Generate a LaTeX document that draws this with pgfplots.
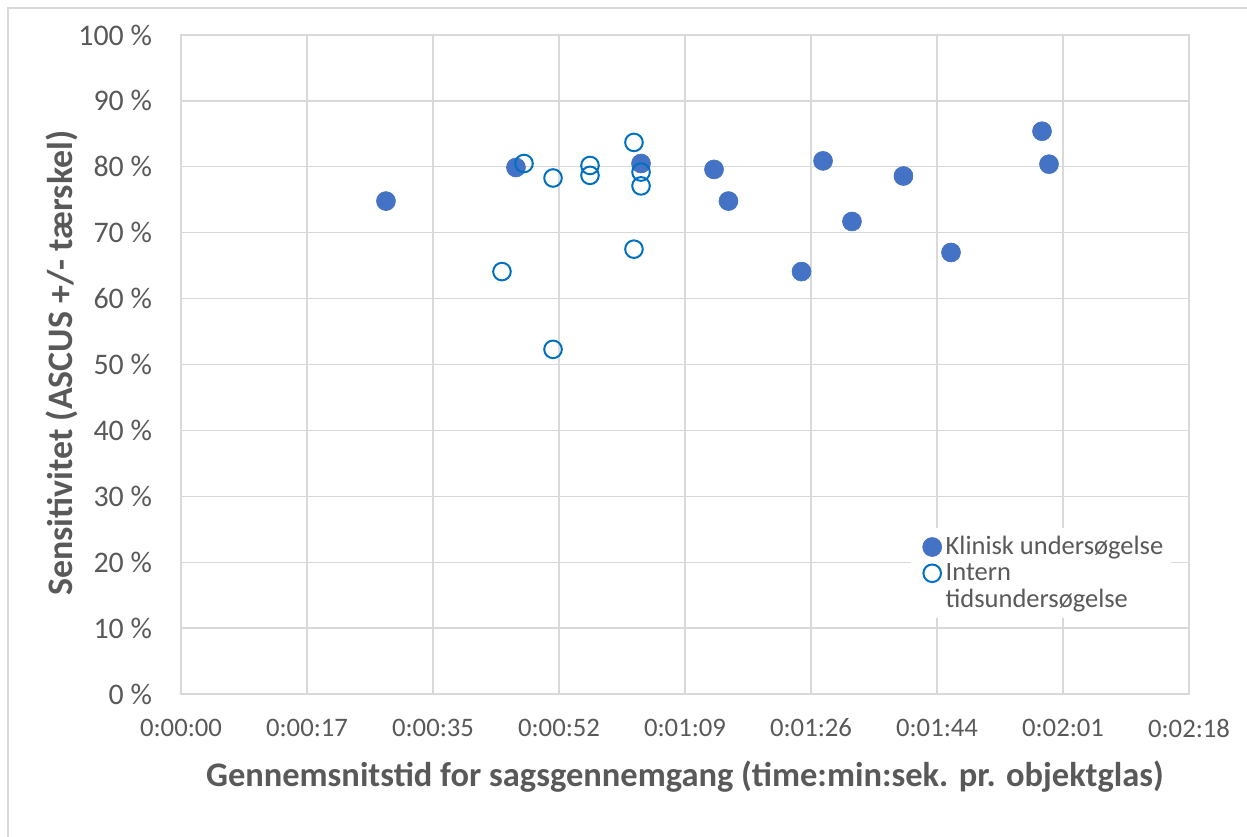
\documentclass[border=0pt]{standalone}
\usepackage{pgfplots}
\pgfplotsset{compat=1.18}
\usepackage{fontspec}
\setmainfont{Carlito}
\definecolor{klin}{HTML}{4472C4}
\definecolor{intern}{HTML}{0070C0}
\definecolor{gridc}{HTML}{D9D9D9}
\definecolor{txt}{HTML}{595959}
\begin{document}
\begin{tikzpicture}
\begin{axis}[
  at={(0,0)}, anchor=south west,
  scale only axis, width=504bp, height=329.5bp,
  xmin=0, xmax=138.24, ymin=0, ymax=100,
  xtick={0,17.28,34.56,51.84,69.12,86.4,103.68,120.96,138.24},
  xticklabels={0:00:00,0:00:17,0:00:35,0:00:52,0:01:09,0:01:26,0:01:44,0:02:01,0:02:18},
  ytick={0,10,...,100},
  yticklabels={0 \%,10 \%,20 \%,30 \%,40 \%,50 \%,60 \%,70 \%,80 \%,90 \%,100 \%},
  major tick length=0pt,
  grid=major,
  grid style={gridc, line width=0.65bp},
  axis line style={gridc, line width=0.65bp},
  xticklabel style={font=\fontsize{13.4}{15}\selectfont, text=txt, anchor=center, yshift=-17bp},
  yticklabel style={font=\fontsize{15}{17}\selectfont, text=txt, anchor=east, xshift=-11bp},
  xlabel={Gennemsnitstid for sagsgennemgang (time:min:sek. pr. objektglas)},
  ylabel={Sensitivitet (ASCUS +/- tærskel)},
  xlabel style={font=\bfseries\fontsize{17.3}{20}\selectfont, text=txt, at={(axis description cs:0.5,-0.126)}, anchor=center},
  ylabel style={font=\bfseries\fontsize{18}{21}\selectfont, text=txt, at={(axis description cs:-0.118,0.502)}, anchor=center, rotate=0},
  legend style={at={(rel axis cs:0.724,0.252)}, anchor=north west, draw=none, fill=white,
    font=\fontsize{13.3}{15}\selectfont, text=txt, row sep=-1.2bp, inner xsep=2bp, inner ysep=2bp},
  legend cell align=left,
  clip=false,
]
\addplot[only marks, mark=*, mark size=4.75bp, mark options={fill=klin, draw=klin, line width=0.3bp}]
  coordinates {
  (28.11,74.8) (45.94,79.9) (63.09,80.5) (73.10,79.6) (75.08,74.8) (85.10,64.1)
  (88.05,80.9) (92.02,71.7) (99.08,78.6) (105.6,67.0) (118.08,85.4) (119.04,80.4)
  };
\addlegendentry{Klinisk undersøgelse}
\addplot[only marks, mark=o, mark size=4.4bp, mark options={draw=intern, fill=white, line width=1bp}]
  coordinates {
  (44.02,64.1) (47.04,80.5) (51.02,78.3) (51.02,52.3) (56.09,80.2) (56.09,78.7)
  (62.12,83.7) (62.12,67.5) (63.09,79.2) (63.09,77.1)
  };
\addlegendentry{Intern}
\addlegendimage{empty legend}
\addlegendentry{tidsundersøgelse}
\end{axis}
\draw[gridc, line width=0.6bp] (-86.5bp,-71.5bp) -- (-86.5bp,343bp) -- (533bp,343bp);
\pgfresetboundingbox
\path[use as bounding box] (-90.5bp,-71.5bp) rectangle (533bp,347bp);
\end{tikzpicture}
\end{document}
